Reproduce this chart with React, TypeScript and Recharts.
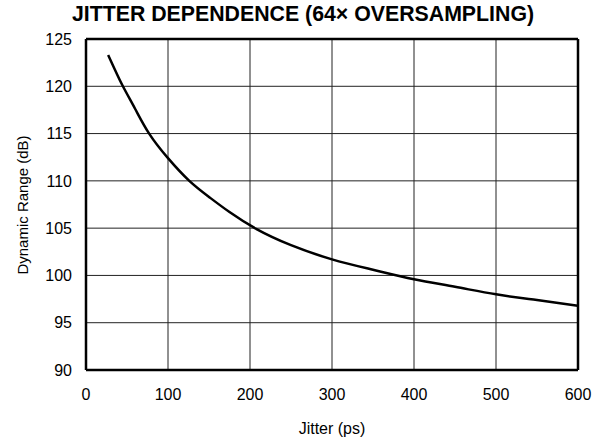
import { LineChart, Line, XAxis, YAxis, CartesianGrid, ReferenceLine } from 'recharts';

// Jitter (ps) vs dynamic range (dB)
const jitterPs = [27, 35, 45, 60, 77, 100, 126, 150, 175, 208, 250, 300, 350, 400, 450, 500, 550, 600];
const dynamicRangeDb = [
  123.3, 121.8, 120.0, 117.6, 115.0, 112.4, 110.0, 108.3, 106.7, 104.9, 103.2, 101.7, 100.6, 99.6,
  98.8, 98.0, 97.4, 96.8,
];
const xTicks = [0, 100, 200, 300, 400, 500, 600];
const yTicks = [90, 95, 100, 105, 110, 115, 120, 125];

const data = jitterPs.map((j, i) => ({ jitter: j, dr: dynamicRangeDb[i] }));

const font = '"Liberation Sans", Arial, sans-serif';

export default function App() {
  return (
    <div style={{ position: 'absolute', left: 0, top: 0, width: 594, height: 442, background: '#fff', fontFamily: font }}>
      <div
        style={{
          position: 'absolute',
          left: 53,
          width: 500,
          top: 2,
          textAlign: 'center',
          fontWeight: 'bold',
          fontSize: 21.3,
          color: '#000',
          whiteSpace: 'nowrap',
        }}
      >
        JITTER DEPENDENCE (64× OVERSAMPLING)
      </div>
      <div
        style={{
          position: 'absolute',
          left: 22,
          top: 205,
          transform: 'translate(-50%, -50%) rotate(-90deg)',
          whiteSpace: 'nowrap',
          fontSize: 15,
          color: '#000',
        }}
      >
        Dynamic Range (dB)
      </div>
      <div
        style={{
          position: 'absolute',
          left: 86,
          width: 492,
          top: 420,
          textAlign: 'center',
          fontSize: 16,
          color: '#000',
        }}
      >
        Jitter (ps)
      </div>
      <LineChart
        width={594}
        height={442}
        data={data}
        margin={{ top: 39, right: 16, bottom: 22, left: 26 }}
        style={{ position: 'absolute', left: 0, top: 0 }}
      >
        <CartesianGrid stroke="#222" strokeWidth={1} />
        <XAxis
          dataKey="jitter"
          type="number"
          domain={[0, 600]}
          ticks={xTicks}
          height={50}
          tickLine={false}
          tickSize={0}
          tickMargin={19}
          axisLine={{ stroke: '#000', strokeWidth: 2.5 }}
          tick={{ fill: '#000', fontSize: 16, fontFamily: font }}
          interval={0}
        />
        <YAxis
          type="number"
          domain={[90, 125]}
          ticks={yTicks}
          width={60}
          tickLine={false}
          tickSize={0}
          tickMargin={14}
          axisLine={{ stroke: '#000', strokeWidth: 2.5 }}
          tick={{ fill: '#000', fontSize: 16, fontFamily: font }}
          interval={0}
        />
        <ReferenceLine y={125} stroke="#000" strokeWidth={2.5} />
        <ReferenceLine x={600} stroke="#000" strokeWidth={2.5} />
        <Line
          type="natural"
          dataKey="dr"
          stroke="#000"
          strokeWidth={2.5}
          dot={false}
          isAnimationActive={false}
        />
      </LineChart>
    </div>
  );
}
